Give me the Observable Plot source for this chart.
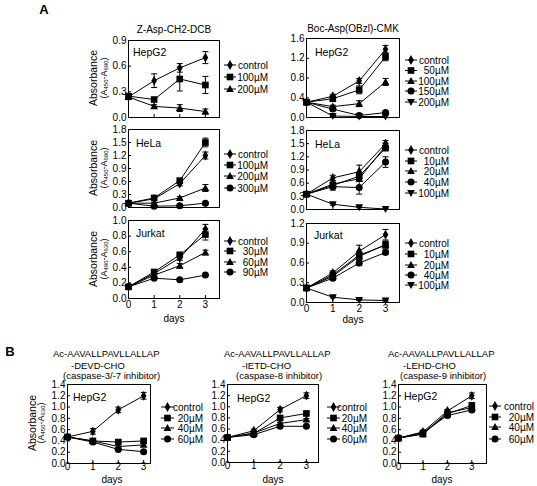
<!DOCTYPE html>
<html><head><meta charset="utf-8">
<script src="https://cdn.jsdelivr.net/npm/d3@7"></script>
<script src="https://cdn.jsdelivr.net/npm/@observablehq/plot@0.6"></script>
<style>
body{margin:0;background:#fff;}
#fig{position:relative;width:537px;height:486px;font-family:"Liberation Sans",Arial,sans-serif;}
#fig svg{position:absolute;overflow:visible;}
</style></head><body><div id="fig"></div>
<script>
const days = [0, 1, 2, 3];

// ---- Panel A, left column: Z-Asp-CH2-DCB ----
const zHepG2Labels = ["control", "100µM", "200µM"];
const zHepG2Values = [[0.24, 0.43, 0.58, 0.70], [0.25, 0.21, 0.45, 0.38], [0.24, 0.13, 0.11, 0.07]];
const zHepG2Errors = [[0.03, 0.08, 0.05, 0.07], [0.03, 0.02, 0.14, 0.10], [0.02, 0.02, 0.04, 0.03]];
const zHepG2Ticks = [0, 0.3, 0.6, 0.9];

const zHeLaLabels = ["control", "100µM", "200µM", "300µM"];
const zHeLaValues = [[0.10, 0.20, 0.55, 1.20], [0.10, 0.22, 0.62, 1.50], [0.10, 0.10, 0.22, 0.45], [0.10, 0.03, 0.04, 0.10]];
const zHeLaErrors = [[0.02, 0.03, 0.05, 0.08], [0.02, 0.03, 0.05, 0.10], [0.02, 0.02, 0.03, 0.08], [0.02, 0.01, 0.02, 0.03]];
const zHeLaTicks = [0, 0.3, 0.6, 0.9, 1.2, 1.5, 1.8];

const zJurkatLabels = ["control", "30µM", "60µM", "90µM"];
const zJurkatValues = [[0.15, 0.32, 0.52, 0.89], [0.15, 0.34, 0.56, 0.82], [0.15, 0.30, 0.42, 0.59], [0.15, 0.26, 0.24, 0.30]];
const zJurkatErrors = [[0.02, 0.02, 0.03, 0.06], [0.02, 0.02, 0.03, 0.07], [0.02, 0.02, 0.03, 0.03], [0.02, 0.01, 0.01, 0.01]];
const zJurkatTicks = [0, 0.2, 0.4, 0.6, 0.8, 1.0];

// ---- Panel A, right column: Boc-Asp(OBzl)-CMK ----
const bHepG2Labels = ["control", "50µM", "100µM", "150µM", "200µM"];
const bHepG2Values = [[0.31, 0.43, 0.74, 1.38], [0.31, 0.38, 0.56, 1.23], [0.31, 0.22, 0.28, 0.72], [0.31, 0.17, 0.04, 0.10], [0.31, 0.03, 0.02, 0.02]];
const bHepG2Errors = [[0.03, 0.04, 0.05, 0.08], [0.03, 0.04, 0.08, 0.08], [0.03, 0.03, 0.06, 0.07], [0.03, 0.03, 0.02, 0.03], [0.03, 0.01, 0.01, 0.02]];
const bHepG2Ticks = [0, 0.4, 0.8, 1.2, 1.6];

const bHeLaLabels = ["control", "10µM", "20µM", "40µM", "100µM"];
const bHeLaValues = [[0.35, 0.72, 0.86, 1.50], [0.35, 0.55, 0.76, 1.40], [0.35, 0.58, 0.70, 1.45], [0.35, 0.52, 0.50, 1.08], [0.35, 0.12, 0.05, 0.01]];
const bHeLaErrors = [[0.03, 0.06, 0.15, 0.07], [0.03, 0.05, 0.07, 0.06], [0.03, 0.05, 0.06, 0.06], [0.03, 0.08, 0.15, 0.12], [0.03, 0.02, 0.01, 0.01]];
const bHeLaTicks = [0, 0.3, 0.6, 0.9, 1.2, 1.5, 1.8];

const bJurkatLabels = ["control", "10µM", "20µM", "40µM", "100µM"];
const bJurkatValues = [[0.22, 0.45, 0.78, 1.03], [0.22, 0.42, 0.72, 0.87], [0.22, 0.40, 0.70, 0.88], [0.22, 0.37, 0.60, 0.76], [0.22, 0.08, 0.04, 0.03]];
const bJurkatErrors = [[0.02, 0.03, 0.09, 0.08], [0.02, 0.03, 0.05, 0.06], [0.02, 0.03, 0.05, 0.05], [0.02, 0.03, 0.04, 0.03], [0.02, 0.01, 0.01, 0.01]];
const bJurkatTicks = [0, 0.3, 0.6, 0.9, 1.2];

// ---- Panel B: HepG2 with caspase inhibitors ----
const caspLabels = ["control", "20µM", "40µM", "60µM"];
const caspTicks = [0, 0.2, 0.4, 0.6, 0.8, 1.0, 1.2, 1.4];
const devdValues = [[0.47, 0.57, 0.95, 1.20], [0.47, 0.40, 0.38, 0.40], [0.47, 0.40, 0.30, 0.33], [0.47, 0.38, 0.25, 0.21]];
const devdErrors = [[0.03, 0.05, 0.05, 0.06], [0.02, 0.02, 0.03, 0.03], [0.02, 0.02, 0.03, 0.03], [0.02, 0.02, 0.02, 0.02]];
const ietdValues = [[0.45, 0.57, 0.95, 1.20], [0.45, 0.52, 0.80, 0.88], [0.45, 0.53, 0.70, 0.77], [0.45, 0.50, 0.65, 0.65]];
const ietdErrors = [[0.02, 0.03, 0.04, 0.05], [0.02, 0.02, 0.03, 0.03], [0.02, 0.02, 0.02, 0.02], [0.02, 0.02, 0.02, 0.02]];
const lehdValues = [[0.45, 0.56, 0.93, 1.20], [0.45, 0.52, 0.88, 1.03], [0.45, 0.53, 0.90, 0.99], [0.45, 0.55, 0.85, 0.95]];
const lehdErrors = [[0.02, 0.03, 0.03, 0.05], [0.02, 0.02, 0.03, 0.04], [0.02, 0.02, 0.03, 0.03], [0.02, 0.02, 0.03, 0.03]];

// ---- symbols ----
function mk(fn) { return { draw(ctx, size) { const r = Math.sqrt(size / Math.PI); fn(ctx, r); } }; }
const symDiamond = mk((c, r) => { c.moveTo(0, -1.4 * r); c.lineTo(0.8 * r, 0); c.lineTo(0, 1.4 * r); c.lineTo(-0.8 * r, 0); c.closePath(); });
const symSquare = mk((c, r) => { const s = 0.95 * r; c.moveTo(-s, -s); c.lineTo(s, -s); c.lineTo(s, s); c.lineTo(-s, s); c.closePath(); });
const symTri = mk((c, r) => { c.moveTo(0, -1.15 * r); c.lineTo(1.1 * r, 0.85 * r); c.lineTo(-1.1 * r, 0.85 * r); c.closePath(); });
const symCircle = mk((c, r) => { c.moveTo(r, 0); c.arc(0, 0, r, 0, 2 * Math.PI); c.closePath(); });
const symInv = mk((c, r) => { c.moveTo(0, 1.15 * r); c.lineTo(1.1 * r, -0.85 * r); c.lineTo(-1.1 * r, -0.85 * r); c.closePath(); });
const symCap = mk((c, r) => { c.moveTo(-r, 0); c.lineTo(r, 0); });
const SYMS = [symDiamond, symSquare, symTri, symCircle, symInv];
const R = 3.5;

const FONT = "'Liberation Sans', Arial, sans-serif";
const fig = document.getElementById("fig");

function drawPanel(spec) {
  const [fl, ft, fr, fb] = spec.frame;
  const ml = 30, mr = 6, mt = 8, mb = 20;
  const rows = [];
  spec.values.forEach((vals, i) => vals.forEach((v, j) => rows.push({ s: i, day: days[j], v, e: spec.errors[i][j] })));
  const marks = [
    Plot.frame({ stroke: "#000", strokeWidth: 1 }),
    Plot.axisY({ ticks: spec.yTicks, tickFormat: d3.format(".1f"), tickSize: -3, tickPadding: 5, label: null }),
    Plot.axisX({ ticks: days, tickFormat: spec.xLabels ? (d => String(d)) : (() => ""), tickSize: -3, tickPadding: spec.xPad ?? 5, label: null })
  ];
  spec.values.forEach((vals, i) => {
    marks.push(Plot.line(rows.filter(r => r.s === i), { x: "day", y: "v", stroke: "#000", strokeWidth: 1 }));
  });
  const er = rows.filter(r => r.e > 0);
  marks.push(Plot.ruleX(er, { x: "day", y1: r => Math.max(0, r.v - r.e), y2: r => r.v + r.e, stroke: "#000", strokeWidth: 1 }));
  marks.push(Plot.dot(er, { x: "day", y: r => r.v + r.e, symbol: symCap, r: 3, stroke: "#000", fill: "none", strokeWidth: 1 }));
  marks.push(Plot.dot(er, { x: "day", y: r => Math.max(0, r.v - r.e), symbol: symCap, r: 3, stroke: "#000", fill: "none", strokeWidth: 1 }));
  spec.values.forEach((vals, i) => {
    marks.push(Plot.dot(rows.filter(r => r.s === i), { x: "day", y: "v", symbol: SYMS[i], r: R, fill: "#000", stroke: "none" }));
  });
  const svg = Plot.plot({
    width: fr - fl + ml + mr, height: fb - ft + mt + mb,
    marginLeft: ml, marginRight: mr, marginTop: mt, marginBottom: mb,
    style: { background: "none", fontFamily: FONT, fontSize: "10px", color: "#000", overflow: "visible" },
    x: { domain: [0, spec.xMax] },
    y: { domain: [spec.yTicks[0], spec.yTicks[spec.yTicks.length - 1]] },
    marks
  });
  svg.style.left = (fl - ml) + "px";
  svg.style.top = (ft - mt) + "px";
  fig.appendChild(svg);
  return spec;
}

const panels = [
  { values: zHepG2Values, errors: zHepG2Errors, labels: zHepG2Labels, yTicks: zHepG2Ticks, frame: [128, 40, 219, 117], xMax: 3.55, cell: "HepG2", cellPos: [133, 52], legend: { x1: 224, x2: 236, tx: 268, ys: [65, 77, 89] } },
  { values: zHeLaValues, errors: zHeLaErrors, labels: zHeLaLabels, yTicks: zHeLaTicks, frame: [128, 129, 219, 207], xMax: 3.55, cell: "HeLa", cellPos: [136, 143], legend: { x1: 224, x2: 236, tx: 268, ys: [154, 165, 176, 188] } },
  { values: zJurkatValues, errors: zJurkatErrors, labels: zJurkatLabels, yTicks: zJurkatTicks, frame: [128, 220, 219, 298], xMax: 3.55, xLabels: true, cell: "Jurkat", cellPos: [136, 233], legend: { x1: 224, x2: 236, tx: 268, ys: [241, 251, 262, 272] } },
  { values: bHepG2Values, errors: bHepG2Errors, labels: bHepG2Labels, yTicks: bHepG2Ticks, frame: [306, 38, 399, 117], xMax: 3.53, cell: "HepG2", cellPos: [315, 52], legend: { x1: 405, x2: 417, tx: 449, ys: [60, 70.5, 81, 91, 102] } },
  { values: bHeLaValues, errors: bHeLaErrors, labels: bHeLaLabels, yTicks: bHeLaTicks, frame: [306, 130, 399, 209], xMax: 3.53, cell: "HeLa", cellPos: [315, 144], legend: { x1: 405, x2: 417, tx: 449, ys: [150, 161, 171, 182, 193] } },
  { values: bJurkatValues, errors: bJurkatErrors, labels: bJurkatLabels, yTicks: bJurkatTicks, frame: [306, 223, 399, 302], xMax: 3.53, xLabels: true, cell: "Jurkat", cellPos: [314, 235], legend: { x1: 405, x2: 417, tx: 449, ys: [243, 254, 265, 275, 285] } },
  { values: devdValues, errors: devdErrors, labels: caspLabels, yTicks: caspTicks, frame: [67, 384, 150, 463], xMax: 3.27, xLabels: true, xPad: 2, cell: "HepG2", cellPos: [73, 397], legend: { x1: 161, x2: 174, tx: 203, ys: [407, 418, 428, 439] } },
  { values: ietdValues, errors: ietdErrors, labels: caspLabels, yTicks: caspTicks, frame: [227, 384, 318, 462], xMax: 3.46, xLabels: true, xPad: 2, cell: "HepG2", cellPos: [237, 398], legend: { x1: 327, x2: 340, tx: 367, ys: [407, 418, 428, 439] } },
  { values: lehdValues, errors: lehdErrors, labels: caspLabels, yTicks: caspTicks, frame: [398, 384, 486, 463], xMax: 3.6, xLabels: true, xPad: 2, cell: "HepG2", cellPos: [404, 396], legend: { x1: 489, x2: 501, tx: 534, ys: [406, 417, 427, 439] } }
];
panels.forEach(drawPanel);

// ---- overlay text and legends ----
const ov = d3.select(fig).append("svg").attr("width", 537).attr("height", 486)
  .style("left", "0px").style("top", "0px").attr("font-family", FONT).attr("fill", "#000");

function txt(x, y, s, o = {}) {
  return ov.append("text").attr("x", x).attr("y", y).attr("dominant-baseline", "central")
    .attr("text-anchor", o.anchor || "start").attr("font-size", o.size || 10)
    .attr("font-weight", o.weight || "normal").text(s);
}

panels.forEach(p => {
  txt(p.cellPos[0], p.cellPos[1], p.cell, { size: 10.5 });
  p.labels.forEach((lab, i) => {
    const y = p.legend.ys[i];
    ov.append("line").attr("x1", p.legend.x1).attr("x2", p.legend.x2).attr("y1", y).attr("y2", y).attr("stroke", "#000");
    const path = d3.path();
    SYMS[i].draw(path, Math.PI * R * R);
    ov.append("path").attr("d", path.toString()).attr("transform", `translate(${(p.legend.x1 + p.legend.x2) / 2},${y})`).attr("fill", "#000");
    txt(p.legend.tx, y, lab, { anchor: "end", size: 10 });
  });
});

txt(44, 9, "A", { weight: "bold", size: 13, anchor: "middle" });
txt(10, 351, "B", { weight: "bold", size: 13, anchor: "middle" });
txt(174, 29, "Z-Asp-CH2-DCB", { anchor: "middle", size: 10 });
txt(353, 28, "Boc-Asp(OBzl)-CMK", { anchor: "middle", size: 10 });

txt(174, 318, "days", { anchor: "middle" });
txt(353, 319, "days", { anchor: "middle" });
txt(112, 479, "days", { anchor: "middle" });
txt(273, 479, "days", { anchor: "middle" });
txt(442, 479, "days", { anchor: "middle" });

function yLabel(x1, x2, cy, a, b) {
  ov.append("text").attr("transform", `translate(${x1},${cy}) rotate(-90)`).attr("text-anchor", "middle")
    .attr("dominant-baseline", "central").attr("font-size", 10.5).text("Absorbance");
  const t = ov.append("text").attr("transform", `translate(${x2},${cy}) rotate(-90)`).attr("text-anchor", "middle")
    .attr("dominant-baseline", "central").attr("font-size", 9);
  t.append("tspan").text("(A");
  t.append("tspan").attr("font-size", 6).attr("dy", 2).text(a);
  t.append("tspan").attr("dy", -2).text("-A");
  t.append("tspan").attr("font-size", 6).attr("dy", 2).text(b);
  t.append("tspan").attr("dy", -2).text(")");
}
yLabel(93, 104, 78, "450", "690");
yLabel(93, 104, 168, "450", "690");
yLabel(93, 104, 259, "490", "630");
yLabel(32, 41, 423, "450", "630");

// B titles
const bTitles = [
  [[53, 353, "Ac-AAVALLPAVLLALLAP"], [71, 365, "-DEVD-CHO"], [63, 375, "(caspase-3/-7 inhibitor)"]],
  [[224, 353, "Ac-AAVALLPAVLLALLAP"], [242, 365, "-IETD-CHO"], [236, 375, "(caspase-8 inhibitor)"]],
  [[388, 353, "Ac-AAVALLPAVLLALLAP"], [403, 365, "-LEHD-CHO"], [400, 375, "(caspase-9 inhibitor)"]]
];
bTitles.forEach(lines => lines.forEach(([x, y, s]) => txt(x, y, s, { size: 9.5 })));
</script></body></html>
